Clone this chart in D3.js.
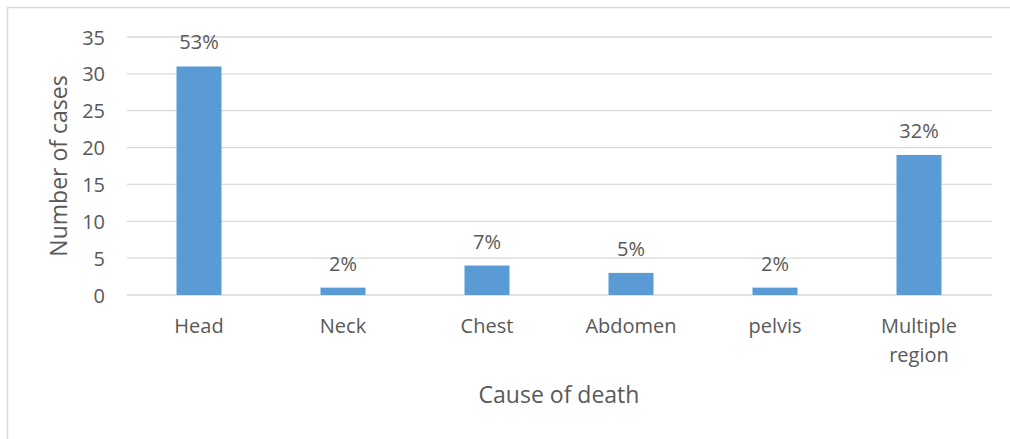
<!DOCTYPE html>
<html><head><meta charset="utf-8">
<script src="https://cdn.jsdelivr.net/npm/d3@7"></script>
<style>body{margin:0;background:#fff}svg{display:block}text{font-family:"Open Sans",sans-serif;fill:#595959}</style>
</head><body><svg id="c" width="1010" height="439"></svg>
<script>
const categories = ["Head","Neck","Chest","Abdomen","pelvis","Multiple region"];
const values = [31,1,4,3,1,19];
const pctLabels = ["53%","2%","7%","5%","2%","32%"];
const yTicks = [0,5,10,15,20,25,30,35];

const svg = d3.select("#c");
svg.append("path").attr("d","M7.5,439V7.5H1010").attr("fill","none").attr("stroke","#d9d9d9").attr("stroke-width",1.5);

const x = d3.scaleBand().domain(categories).range([127,991]).padding(0);
const y = d3.scaleLinear().domain([0,35]).range([295,37]);

const grid = svg.append("g");
grid.selectAll("line").data(yTicks).join("line")
  .attr("x1",127).attr("x2",992).attr("y1",d=>y(d)).attr("y2",d=>y(d))
  .attr("stroke","#d9d9d9").attr("stroke-width",1.3);

const yAxis = svg.append("g").attr("transform","translate(105,0)")
  .call(d3.axisLeft(y).tickValues(yTicks).tickSize(0).tickPadding(0));
yAxis.select(".domain").remove();
yAxis.selectAll("text").style("font-size","20px").attr("fill","#595959").attr("dy","0.35em");

const bw = x.bandwidth()*0.3125;
svg.append("g").selectAll("rect").data(categories).join("rect")
  .attr("x",(d)=>x(d)+x.bandwidth()/2-bw/2)
  .attr("width",bw)
  .attr("y",(d,i)=>y(values[i]))
  .attr("height",(d,i)=>y(0)-y(values[i]))
  .attr("fill","#5b9bd5");

svg.append("g").selectAll("text").data(categories).join("text")
  .attr("x",d=>x(d)+x.bandwidth()/2)
  .attr("y",(d,i)=>y(values[i])-24)
  .attr("text-anchor","middle").attr("dy","0.35em")
  .style("font-size","20px").attr("fill","#404040")
  .text((d,i)=>pctLabels[i]);

const xl = svg.append("g").selectAll("text").data(categories).join("text")
  .attr("x",d=>x(d)+x.bandwidth()/2)
  .attr("y",326).attr("text-anchor","middle").attr("dy","0.35em")
  .style("font-size","20px");
xl.each(function(d){
  const words = d==="Multiple region" ? ["Multiple","region"] : [d];
  const t = d3.select(this);
  words.forEach((w,i)=>t.append("tspan").attr("x",x(d)+x.bandwidth()/2).attr("dy",i===0?"0.35em":"29px").text(w));
});

svg.append("text").attr("x",559).attr("y",395).attr("dy","0.35em")
  .attr("text-anchor","middle").style("font-size","23px").text("Cause of death");
svg.append("text").attr("transform","translate(59,166) rotate(-90)").attr("dy","0.35em")
  .attr("text-anchor","middle").style("font-size","23px").text("Number of cases");
</script></body></html>
